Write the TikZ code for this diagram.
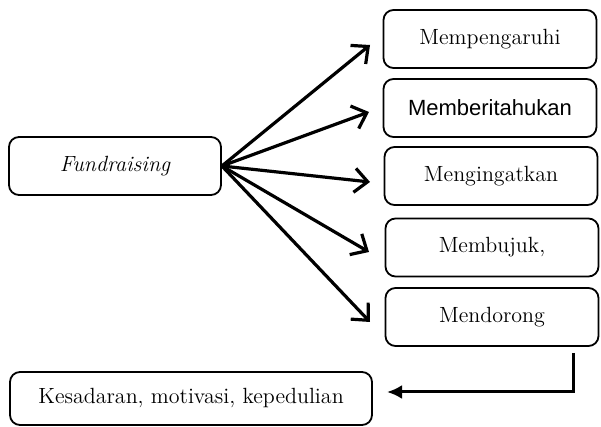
\documentclass[tikz,border=0pt]{standalone}
\usepackage{fontspec}
\newfontfamily\arialfont{Liberation Sans}
\usetikzlibrary{arrows.meta}
\begin{document}
\begin{tikzpicture}[x=0.5pt,y=-0.5pt,
        box/.style={draw,line width=0.9pt,rounded corners=5pt,inner sep=0pt,
            minimum width=106.5pt,minimum height=29pt,font=\fontsize{11}{13}\selectfont},
        fan/.style={line width=1.6pt,-{Straight Barb[length=6.5pt,width=12pt]}},
        back/.style={line width=1.5pt,-{Latex[length=7.5pt,width=7pt]}}]
    \useasboundingbox (0,0) rectangle (601,427);
    % source and effects
    \node[box,minimum width=106pt] (fund) at (115,166) {\itshape Fundraising};
    \node[box] (m1) at (490,39) {Mempengaruhi};
    \node[box] (m2) at (490,108) {\arialfont Memberitahukan};
    \node[box] (m3) at (491,176) {Mengingatkan};
    \node[box] (m4) at (492,247.5) {Membujuk,};
    \node[box] (m5) at (492,317) {Mendorong};
    \node[box,minimum width=181pt,minimum height=26.5pt] (result) at (191,398.5)
        {Kesadaran, motivasi, kepedulian};
    % arrow ends
    \coordinate (t1) at (370,45);
    \coordinate (t2) at (369,112);
    \coordinate (t3) at (370,182);
    \coordinate (t4) at (369,252);
    \coordinate (t5) at (370,322);
    \coordinate (up) at (573,353);
    \coordinate (turn) at (573,392);
    \coordinate (down) at (387,392);
    \foreach \t in {t1,t2,t3,t4,t5}
        \draw[fan] (fund.east) -- (\t);
    \draw[back] (up) -- (turn) -- (down);
\end{tikzpicture}
\end{document}
